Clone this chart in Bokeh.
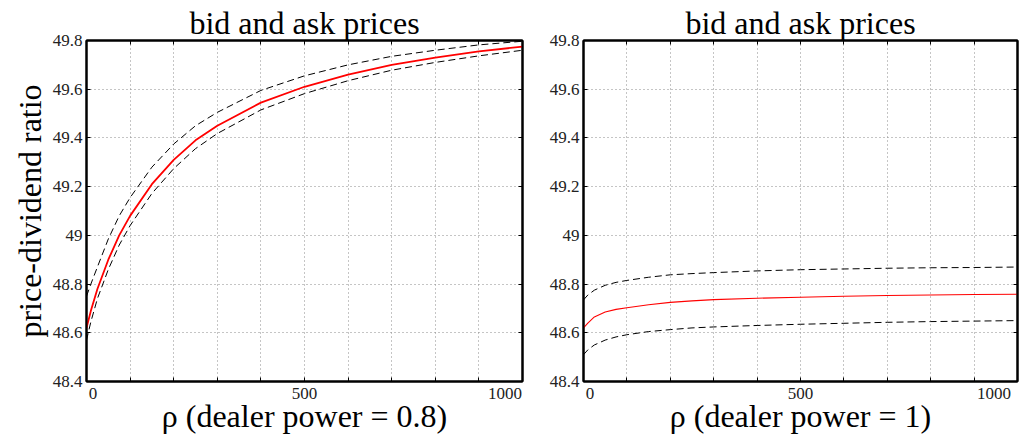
from bokeh.plotting import figure
from bokeh.models import FixedTicker, LinearAxis, Range1d, ColumnDataSource
from bokeh.layouts import row
from bokeh.embed import file_html
from bokeh.resources import INLINE

# ---- data ----
rho = [0, 10, 25, 50, 75, 100, 150, 200, 250, 300, 400, 500, 600, 700, 800, 900, 1000]

# left panel: dealer power = 0.8
left_mid = [48.62, 48.69, 48.78, 48.90, 49.00, 49.08, 49.21, 49.31, 49.39, 49.45,
            49.545, 49.61, 49.66, 49.70, 49.73, 49.755, 49.775]
left_ask = [48.75, 48.80, 48.87, 48.985, 49.08, 49.155, 49.28, 49.375, 49.45, 49.505,
            49.595, 49.655, 49.70, 49.735, 49.76, 49.782, 49.797]
left_bid = [48.57, 48.645, 48.74, 48.86, 48.96, 49.04, 49.172, 49.274, 49.356, 49.418,
            49.515, 49.582, 49.635, 49.678, 49.71, 49.737, 49.76]

# right panel: dealer power = 1
right_mid = [48.62, 48.64, 48.665, 48.685, 48.696, 48.703, 48.715, 48.725, 48.731, 48.736,
             48.742, 48.746, 48.75, 48.753, 48.755, 48.757, 48.758]
right_ask = [48.735, 48.755, 48.775, 48.795, 48.807, 48.815, 48.828, 48.838, 48.843, 48.847,
             48.854, 48.859, 48.862, 48.865, 48.867, 48.868, 48.87]
right_bid = [48.51, 48.53, 48.55, 48.57, 48.583, 48.592, 48.605, 48.613, 48.62, 48.624,
             48.63, 48.635, 48.639, 48.643, 48.646, 48.648, 48.65]

x_ticks = [0, 100, 200, 300, 400, 500, 600, 700, 800, 900, 1000]
x_tick_labels = {0: "\u00a0\u00a0\u00a00", 500: "500", 1000: "1000\u00a0\u00a0"}
y_ticks = [48.4, 48.6, 48.8, 49.0, 49.2, 49.4, 49.6, 49.8]
y_tick_labels = ["48.4", "48.6", "48.8", "49", "49.2", "49.4", "49.6", "49.8"]

title_text = "bid and ask prices"
y_label = "price-dividend ratio"
x_labels = ["\u03c1 (dealer power = 0.8)", "\u03c1 (dealer power = 1)"]

SERIF = "Liberation Serif"
BIG = "32px"
SMALL = "17px"


def make_panel(width, border_left, border_right, mid, ask, bid, xlabel, ylabel, red_width):
    p = figure(width=width, height=436, output_backend="svg", toolbar_location=None,
               x_range=Range1d(0, 1000), y_range=Range1d(48.4, 49.8),
               min_border_left=border_left, min_border_right=border_right,
               min_border_top=40, min_border_bottom=52)
    p.background_fill_color = "white"
    p.border_fill_color = "white"
    p.outline_line_color = "black"
    p.outline_line_width = 2

    p.title.text = title_text
    p.title.text_font = SERIF
    p.title.text_font_size = BIG
    p.title.text_font_style = "normal"
    p.title.text_color = "black"
    p.title.align = "center"
    p.title.standoff = 0

    xo = {t: x_tick_labels.get(t, "") for t in x_ticks}
    yo = {t: l for t, l in zip(y_ticks, y_tick_labels)}

    xa = p.xaxis[0]
    xa.ticker = FixedTicker(ticks=x_ticks)
    xa.major_label_overrides = xo
    ya = p.yaxis[0]
    ya.ticker = FixedTicker(ticks=y_ticks)
    ya.major_label_overrides = yo

    for ax in (xa, ya):
        ax.major_tick_in = 4
        ax.major_tick_out = 0
        ax.minor_tick_line_color = None
        ax.axis_line_width = 2
        ax.axis_line_color = "black"
        ax.major_tick_line_color = "black"
        ax.major_label_text_font = SERIF
        ax.major_label_text_font_size = SMALL
        ax.major_label_text_color = "#222222"
        ax.axis_label_text_font = SERIF
        ax.axis_label_text_font_size = BIG
        ax.axis_label_text_font_style = "normal"
        ax.axis_label_text_color = "black"
    xa.major_label_standoff = 2
    xa.axis_label_standoff = -8
    ya.major_label_standoff = 4
    ya.axis_label_standoff = 2
    xa.axis_label = xlabel
    if ylabel:
        ya.axis_label = ylabel

    for loc, ticks in (("above", x_ticks), ("right", y_ticks)):
        ax = LinearAxis(ticker=FixedTicker(ticks=ticks), major_label_text_font_size="0px",
                        major_label_standoff=0, major_tick_in=4, major_tick_out=0,
                        minor_tick_line_color=None, axis_line_width=2, axis_line_color="black",
                        major_label_overrides={t: "" for t in ticks})
        p.add_layout(ax, loc)

    p.xgrid.ticker = FixedTicker(ticks=x_ticks)
    p.ygrid.ticker = FixedTicker(ticks=y_ticks)
    p.grid.grid_line_color = "#8a8a8a"
    p.grid.grid_line_dash = "1 3"
    p.grid.grid_line_width = 1

    src = ColumnDataSource(dict(rho=rho, mid=mid, ask=ask, bid=bid))
    p.line("rho", "ask", source=src, line_color="black", line_width=1, line_dash="7 4")
    p.line("rho", "bid", source=src, line_color="black", line_width=1, line_dash="7 4")
    p.line("rho", "mid", source=src, line_color="red", line_width=red_width)
    return p


p1 = make_panel(530, 86, 8, left_mid, left_ask, left_bid, x_labels[0], y_label, 1.8)
p2 = make_panel(489, 53, 2, right_mid, right_ask, right_bid, x_labels[1], None, 1.1)

layout = row(p1, p2)
open("out.html", "w").write(file_html(layout, INLINE))
